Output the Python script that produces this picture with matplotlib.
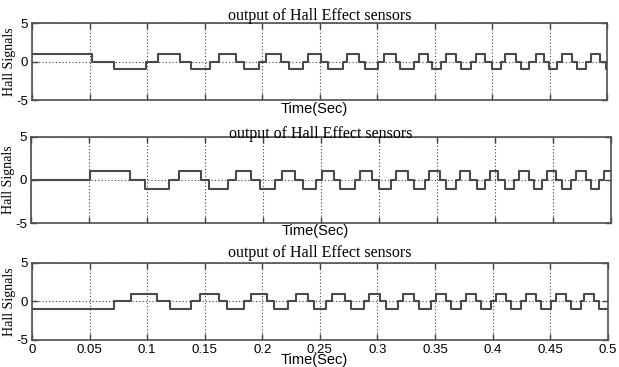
import matplotlib
matplotlib.use("Agg")
import matplotlib.pyplot as plt

# switching instants (s) and the level each hall signal takes from that instant on
hall1_t = [0, 0.0523, 0.0712, 0.0993,
           0.1094, 0.1290, 0.1384, 0.1550,
           0.1624, 0.1770, 0.1842, 0.1972,
           0.2036, 0.2161, 0.2233, 0.2355,
           0.2402, 0.2509, 0.2576, 0.2703,
           0.2741, 0.2842, 0.2894, 0.3010,
           0.3059, 0.3161, 0.3204, 0.3320,
           0.3364, 0.3442, 0.3480, 0.3558,
           0.3596, 0.3683, 0.3726, 0.3813,
           0.3857, 0.3943, 0.4002, 0.4074,
           0.4117, 0.4204, 0.4248, 0.4320,
           0.4378, 0.4451, 0.4494, 0.4567,
           0.4610, 0.4697, 0.4741, 0.4813,
           0.4857, 0.4943, 0.4987]
hall1_v = [1, 0, -1, 0, 1, 0, -1, 0, 1, 0, -1, 0, 1, 0, -1, 0,
           1, 0, -1, 0, 1, 0, -1, 0, 1, 0, -1, 0, 1, 0, -1, 0,
           1, 0, -1, 0, 1, 0, -1, 0, 1, 0, -1, 0, 1, 0, -1, 0,
           1, 0, -1, 0,
           1, 0, -1]

hall2_t = [0,
           0.0509, 0.0851, 0.0981, 0.1190,
           0.1277, 0.1465, 0.1538, 0.1697,
           0.1764, 0.1900, 0.1972, 0.2103,
           0.2161, 0.2277, 0.2343, 0.2459,
           0.2509, 0.2610, 0.2668, 0.2790,
           0.2836, 0.2943, 0.3002, 0.3103,
           0.3146, 0.3248, 0.3306, 0.3393,
           0.3430, 0.3523, 0.3581, 0.3668,
           0.3697, 0.3784, 0.3842, 0.3914,
           0.3958, 0.4030, 0.4088, 0.4161,
           0.4204, 0.4291, 0.4335, 0.4407,
           0.4451, 0.4523, 0.4581, 0.4654,
           0.4697, 0.4784, 0.4828, 0.4900,
           0.4943]
hall2_v = [0,
           1, 0, -1, 0, 1, 0, -1, 0, 1, 0, -1, 0, 1, 0, -1, 0,
           1, 0, -1, 0, 1, 0, -1, 0, 1, 0, -1, 0, 1, 0, -1, 0,
           1, 0, -1, 0, 1, 0, -1, 0, 1, 0, -1, 0, 1, 0, -1, 0,
           1, 0, -1, 0,
           1]

hall3_t = [0,
           0.0712, 0.0857, 0.1088, 0.1196,
           0.1384, 0.1457, 0.1624, 0.1697,
           0.1842, 0.1906, 0.2045, 0.2103,
           0.2225, 0.2291, 0.2398, 0.2451,
           0.2555, 0.2605, 0.2715, 0.2775,
           0.2880, 0.2929, 0.3024, 0.3074,
           0.3175, 0.3219, 0.3320, 0.3364,
           0.3465, 0.3509, 0.3596, 0.3639,
           0.3726, 0.3770, 0.3857, 0.3900,
           0.3987, 0.4030, 0.4117, 0.4161,
           0.4248, 0.4291, 0.4378, 0.4422,
           0.4509, 0.4552, 0.4639, 0.4683,
           0.4770, 0.4798, 0.4885, 0.4929]
hall3_v = [-1,
           0, 1, 0, -1, 0, 1, 0, -1, 0, 1, 0, -1, 0, 1, 0, -1,
           0, 1, 0, -1, 0, 1, 0, -1, 0, 1, 0, -1, 0, 1, 0, -1,
           0, 1, 0, -1, 0, 1, 0, -1, 0, 1, 0, -1, 0, 1, 0, -1,
           0, 1, 0, -1]

t_end = 0.5
x_ticks = [0, 0.05, 0.1, 0.15, 0.2, 0.25, 0.3, 0.35, 0.4, 0.45, 0.5]
x_ticklabels = ["0", "0.05", "0.1", "0.15", "0.2", "0.25", "0.3", "0.35", "0.4", "0.45", "0.5"]
y_ticks = [-5, 0, 5]

title = "output of Hall Effect sensors"
xlab = "Time(Sec)"
ylab = "Hall Signals"

fig = plt.figure(figsize=(6.19, 3.67), dpi=100)

# axes boxes in figure fractions
boxes = [[0.0517, 0.7275, 0.929, 0.2098],
         [0.0500, 0.3920, 0.937, 0.2357],
         [0.0517, 0.0736, 0.930, 0.2098]]
title_pads = [2.0, -1.0, 4.0]
xlab_y = [-0.03, -0.015, -0.175]

signals = [(hall1_t, hall1_v), (hall2_t, hall2_v), (hall3_t, hall3_v)]

for i, (t, v) in enumerate(signals):
    ax = fig.add_axes(boxes[i])
    ax.step(t + [t_end], v + [v[-1]], where="post", color="#4a4a4a", lw=1.5)
    ax.set_xlim(0, t_end)
    ax.set_ylim(-5, 5)
    ax.set_xticks(x_ticks)
    ax.set_yticks(y_ticks)
    ax.set_yticklabels(["-5", "0", "5"], fontfamily="Liberation Sans", fontsize=9.5)
    if i == 2:
        ax.set_xticklabels(x_ticklabels, fontfamily="Liberation Sans", fontsize=9.5)
    else:
        ax.set_xticklabels([])
    ax.tick_params(direction="in", top=True, right=True, length=4, width=1,
                   color="#404040", pad=3)
    ax.grid(True, linestyle=(0, (1, 2)), color="#404040", lw=0.8)
    for s in ax.spines.values():
        s.set_color("#505050")
        s.set_linewidth(1.2)
    ax.set_title(title, fontfamily="Liberation Serif", fontsize=11.5, pad=title_pads[i])
    ax.set_xlabel(xlab, fontfamily="Liberation Sans", fontsize=10.5)
    ax.xaxis.set_label_coords(0.49, xlab_y[i])
    ax.set_ylabel(ylab, fontfamily="Liberation Serif", fontsize=10)
    ax.yaxis.set_label_coords(-0.028, 0.5)

fig.savefig("out.png", dpi=100)
